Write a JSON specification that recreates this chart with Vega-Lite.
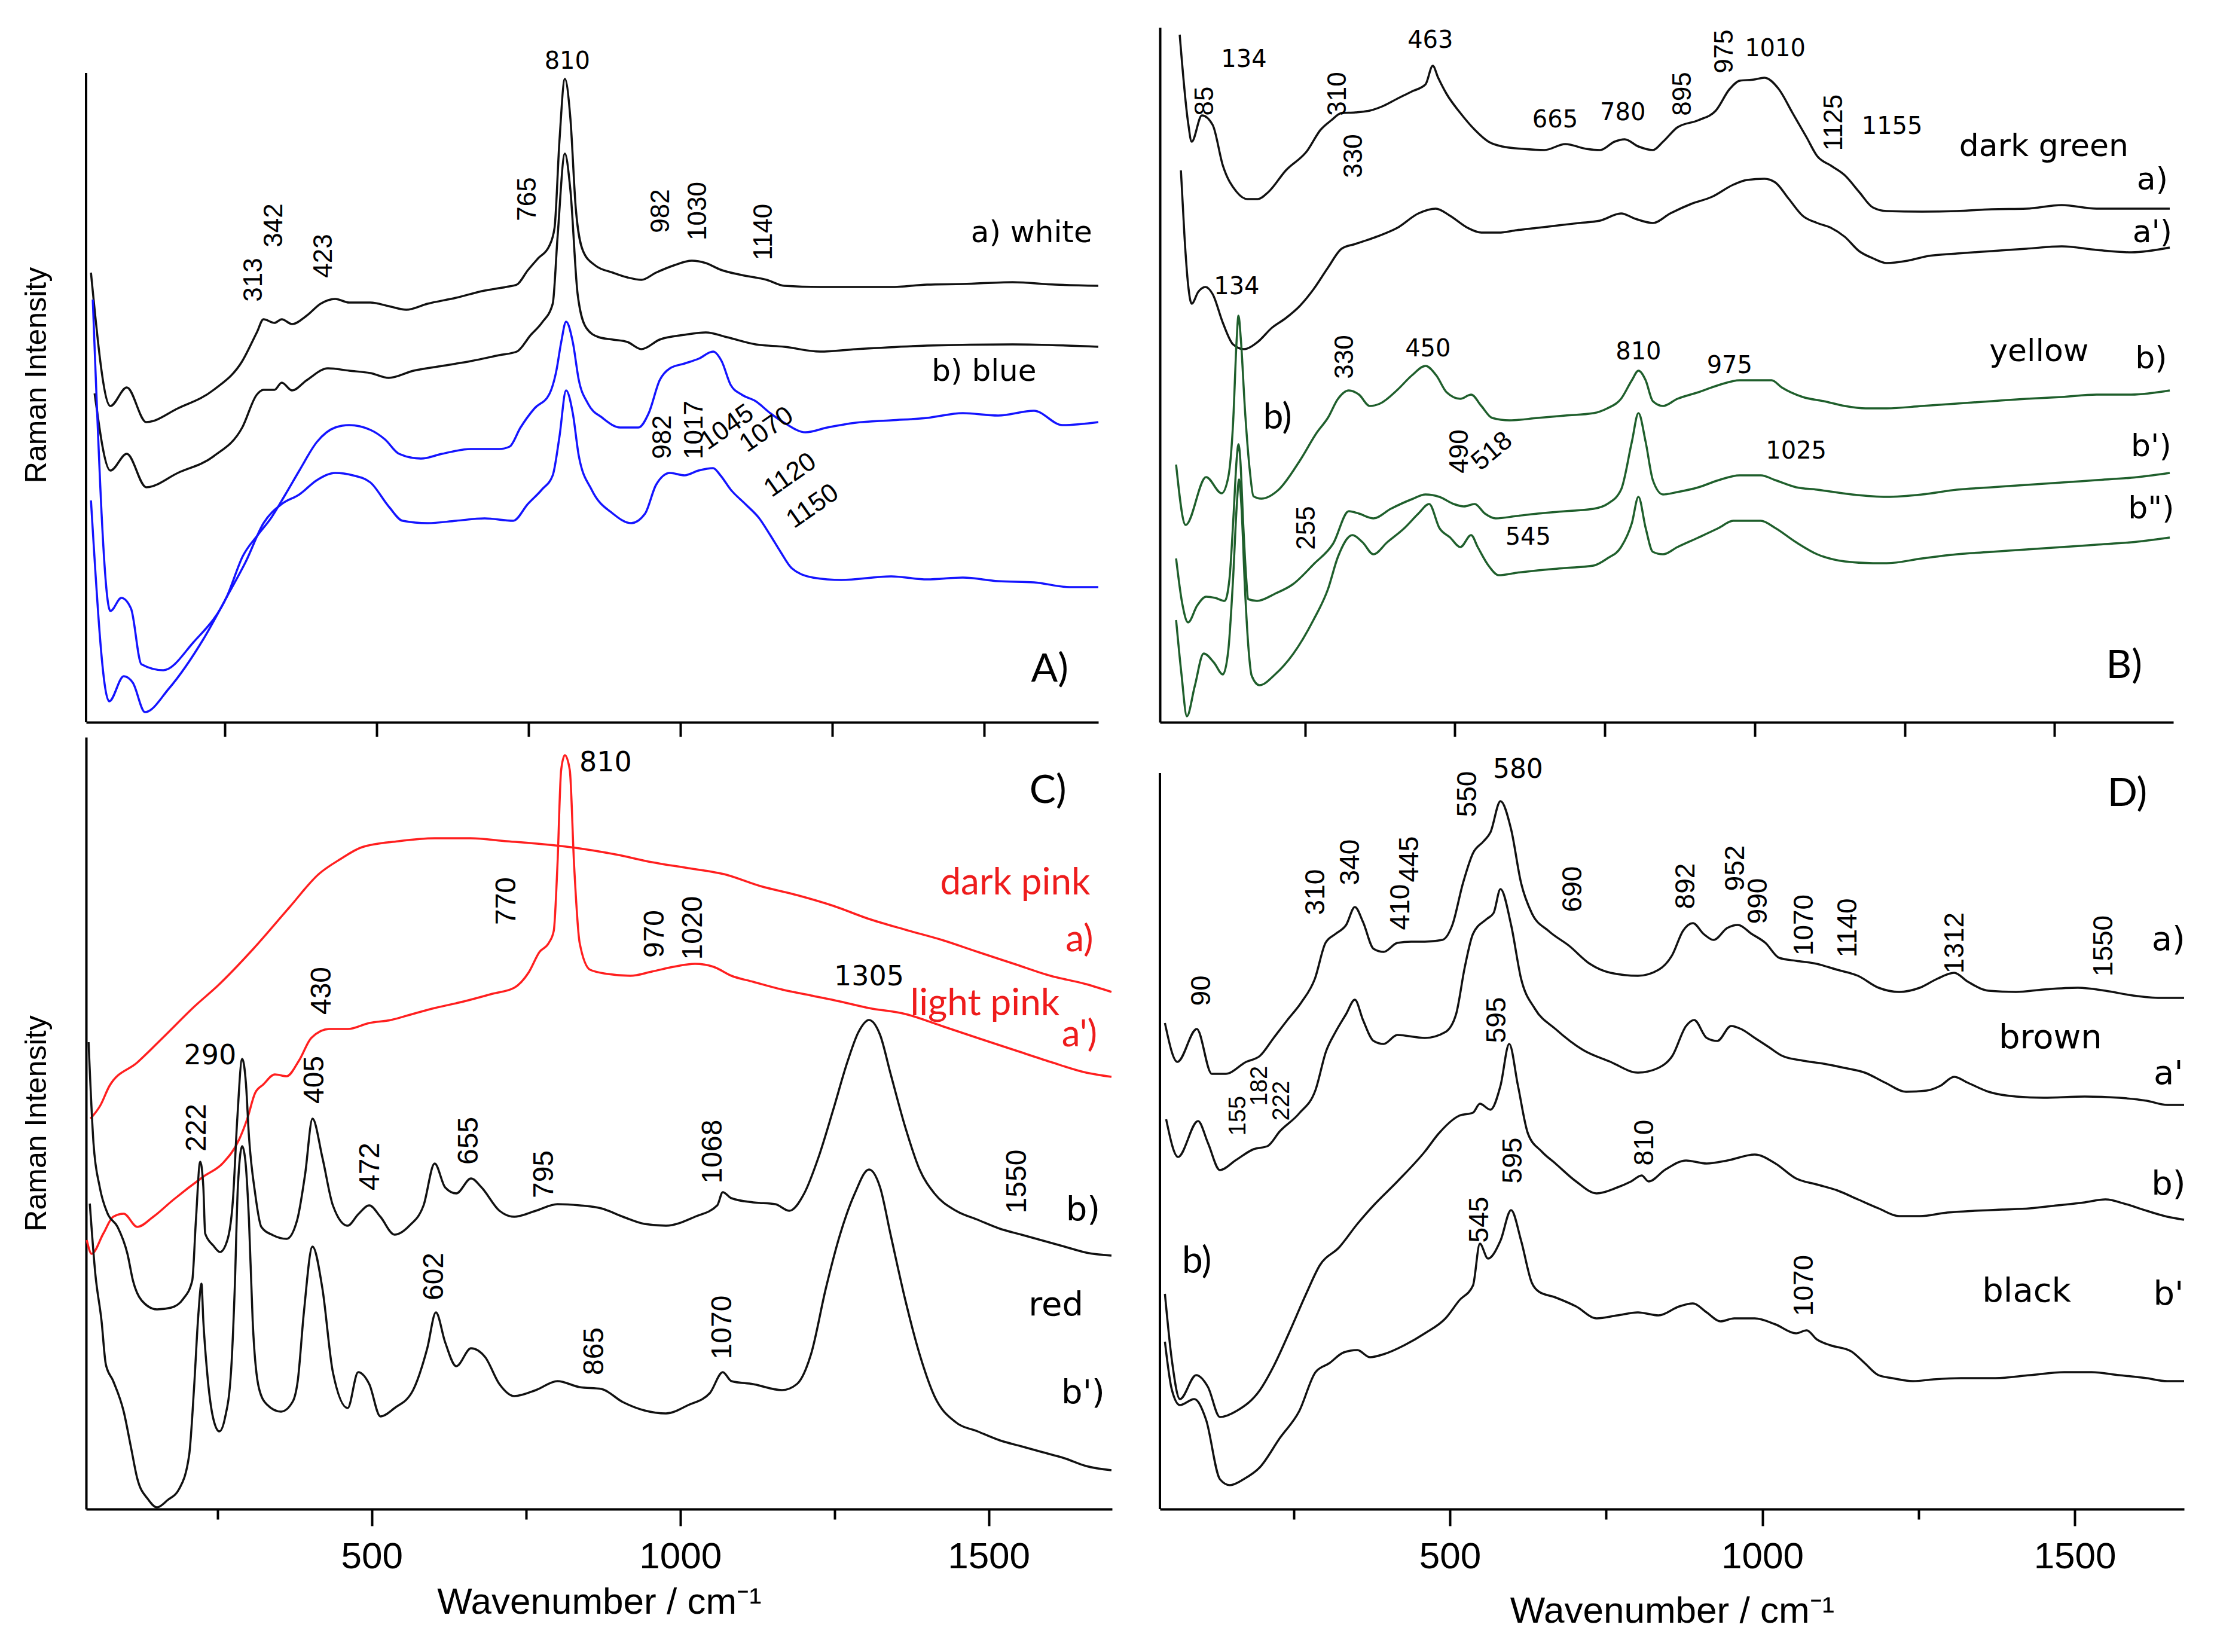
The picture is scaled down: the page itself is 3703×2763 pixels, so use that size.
{
"$schema":"https://vega.github.io/schema/vega-lite/v6.json",
"background":"white",
"padding":{"left":36,"top":46,"right":0,"bottom":10},
"config":{"view":{"stroke":null},"axis":{"domainColor":"#000","domainWidth":4,"tickColor":"#000","tickWidth":4,"labelFont":"Liberation Sans","labelFontSize":62,"labelColor":"#000","labelPadding":21,"titleFont":"Liberation Sans","titleFontSize":62,"titleFontWeight":"normal","titleColor":"#000","grid":false}},
"datasets":{
"A":[
{"s":"a","wn":30,"I":75.2},{"s":"a","wn":62,"I":52.9},{"s":"a","wn":89,"I":56.0},{"s":"a","wn":121,"I":50.2},{"s":"a","wn":173,"I":52.5},{"s":"a","wn":232,"I":55.6},{"s":"a","wn":279,"I":60.4},{"s":"a","wn":303,"I":65.2},{"s":"a","wn":314,"I":67.4},{"s":"a","wn":332,"I":66.8},{"s":"a","wn":344,"I":67.4},{"s":"a","wn":361,"I":66.6},{"s":"a","wn":385,"I":68.0},{"s":"a","wn":408,"I":70.0},{"s":"a","wn":432,"I":70.8},{"s":"a","wn":455,"I":70.2},{"s":"a","wn":490,"I":70.2},{"s":"a","wn":520,"I":69.6},{"s":"a","wn":549,"I":69.0},{"s":"a","wn":584,"I":70.0},{"s":"a","wn":631,"I":71.0},{"s":"a","wn":678,"I":72.2},{"s":"a","wn":713,"I":72.8},{"s":"a","wn":731,"I":73.2},{"s":"a","wn":749,"I":75.6},{"s":"a","wn":766,"I":77.6},{"s":"a","wn":784,"I":79.6},{"s":"a","wn":793,"I":82.7},{"s":"a","wn":801,"I":97.1},{"s":"a","wn":810,"I":107.6},{"s":"a","wn":819,"I":101.1},{"s":"a","wn":828,"I":85.9},{"s":"a","wn":840,"I":78.8},{"s":"a","wn":860,"I":76.4},{"s":"a","wn":889,"I":75.2},{"s":"a","wn":913,"I":74.4},{"s":"a","wn":936,"I":74.0},{"s":"a","wn":960,"I":75.2},{"s":"a","wn":989,"I":76.4},{"s":"a","wn":1019,"I":77.2},{"s":"a","wn":1042,"I":76.8},{"s":"a","wn":1066,"I":75.7},{"s":"a","wn":1101,"I":74.8},{"s":"a","wn":1142,"I":74.0},{"s":"a","wn":1171,"I":73.0},{"s":"a","wn":1230,"I":72.8},{"s":"a","wn":1289,"I":72.8},{"s":"a","wn":1347,"I":72.8},{"s":"a","wn":1406,"I":73.2},{"s":"a","wn":1465,"I":73.3},{"s":"a","wn":1547,"I":73.6},{"s":"a","wn":1617,"I":73.2},{"s":"a","wn":1688,"I":73.0},
{"s":"b","wn":36,"I":55.0},{"s":"b","wn":62,"I":42.1},{"s":"b","wn":89,"I":44.9},{"s":"b","wn":121,"I":39.3},{"s":"b","wn":173,"I":41.7},{"s":"b","wn":232,"I":44.5},{"s":"b","wn":279,"I":49.3},{"s":"b","wn":303,"I":54.8},{"s":"b","wn":314,"I":55.6},{"s":"b","wn":332,"I":55.6},{"s":"b","wn":344,"I":56.8},{"s":"b","wn":361,"I":55.5},{"s":"b","wn":385,"I":57.2},{"s":"b","wn":420,"I":59.2},{"s":"b","wn":455,"I":58.8},{"s":"b","wn":490,"I":58.4},{"s":"b","wn":520,"I":57.6},{"s":"b","wn":561,"I":58.8},{"s":"b","wn":608,"I":59.6},{"s":"b","wn":655,"I":60.4},{"s":"b","wn":702,"I":61.4},{"s":"b","wn":731,"I":62.0},{"s":"b","wn":754,"I":64.8},{"s":"b","wn":772,"I":66.8},{"s":"b","wn":790,"I":70.0},{"s":"b","wn":798,"I":81.2},{"s":"b","wn":810,"I":95.1},{"s":"b","wn":819,"I":89.1},{"s":"b","wn":831,"I":71.6},{"s":"b","wn":845,"I":66.0},{"s":"b","wn":866,"I":64.4},{"s":"b","wn":889,"I":64.0},{"s":"b","wn":913,"I":63.6},{"s":"b","wn":936,"I":62.4},{"s":"b","wn":966,"I":64.0},{"s":"b","wn":1007,"I":64.8},{"s":"b","wn":1042,"I":65.2},{"s":"b","wn":1077,"I":64.4},{"s":"b","wn":1124,"I":63.2},{"s":"b","wn":1171,"I":62.8},{"s":"b","wn":1230,"I":62.0},{"s":"b","wn":1289,"I":62.4},{"s":"b","wn":1406,"I":63.0},{"s":"b","wn":1547,"I":63.2},{"s":"b","wn":1688,"I":62.8},
{"s":"c","wn":33,"I":70.7},{"s":"c","wn":62,"I":18.6},{"s":"c","wn":80,"I":20.8},{"s":"c","wn":96,"I":19.0},{"s":"c","wn":113,"I":9.7},{"s":"c","wn":149,"I":8.7},{"s":"c","wn":198,"I":13.3},{"s":"c","wn":254,"I":21.1},{"s":"c","wn":280,"I":27.8},{"s":"c","wn":306,"I":31.5},{"s":"c","wn":326,"I":34.1},{"s":"c","wn":350,"I":38.1},{"s":"c","wn":373,"I":42.1},{"s":"c","wn":402,"I":46.9},{"s":"c","wn":432,"I":49.3},{"s":"c","wn":455,"I":49.7},{"s":"c","wn":490,"I":48.9},{"s":"c","wn":514,"I":47.3},{"s":"c","wn":537,"I":44.9},{"s":"c","wn":573,"I":44.1},{"s":"c","wn":608,"I":44.9},{"s":"c","wn":655,"I":45.7},{"s":"c","wn":702,"I":45.7},{"s":"c","wn":719,"I":46.1},{"s":"c","wn":737,"I":49.3},{"s":"c","wn":760,"I":52.5},{"s":"c","wn":784,"I":54.8},{"s":"c","wn":796,"I":58.8},{"s":"c","wn":804,"I":63.6},{"s":"c","wn":812,"I":67.0},{"s":"c","wn":823,"I":63.6},{"s":"c","wn":833,"I":57.2},{"s":"c","wn":848,"I":53.3},{"s":"c","wn":872,"I":50.9},{"s":"c","wn":901,"I":49.3},{"s":"c","wn":931,"I":49.3},{"s":"c","wn":948,"I":51.7},{"s":"c","wn":966,"I":57.2},{"s":"c","wn":983,"I":59.2},{"s":"c","wn":1007,"I":60.0},{"s":"c","wn":1030,"I":60.8},{"s":"c","wn":1054,"I":62.0},{"s":"c","wn":1068,"I":60.4},{"s":"c","wn":1083,"I":56.4},{"s":"c","wn":1101,"I":54.8},{"s":"c","wn":1124,"I":53.7},{"s":"c","wn":1148,"I":51.7},{"s":"c","wn":1171,"I":50.1},{"s":"c","wn":1206,"I":48.5},{"s":"c","wn":1242,"I":49.3},{"s":"c","wn":1289,"I":50.1},{"s":"c","wn":1347,"I":50.5},{"s":"c","wn":1406,"I":50.9},{"s":"c","wn":1465,"I":51.7},{"s":"c","wn":1523,"I":51.3},{"s":"c","wn":1582,"I":52.1},{"s":"c","wn":1629,"I":49.7},{"s":"c","wn":1688,"I":50.2},
{"s":"d","wn":30,"I":37.1},{"s":"d","wn":60,"I":3.5},{"s":"d","wn":84,"I":7.7},{"s":"d","wn":99,"I":6.6},{"s":"d","wn":119,"I":1.7},{"s":"d","wn":158,"I":5.6},{"s":"d","wn":215,"I":13.9},{"s":"d","wn":257,"I":21.6},{"s":"d","wn":285,"I":26.9},{"s":"d","wn":314,"I":33.3},{"s":"d","wn":344,"I":36.5},{"s":"d","wn":373,"I":38.1},{"s":"d","wn":402,"I":40.5},{"s":"d","wn":432,"I":41.7},{"s":"d","wn":461,"I":41.3},{"s":"d","wn":490,"I":40.1},{"s":"d","wn":520,"I":36.1},{"s":"d","wn":543,"I":33.7},{"s":"d","wn":584,"I":33.3},{"s":"d","wn":631,"I":33.7},{"s":"d","wn":678,"I":34.1},{"s":"d","wn":725,"I":33.7},{"s":"d","wn":749,"I":36.5},{"s":"d","wn":772,"I":38.9},{"s":"d","wn":790,"I":41.3},{"s":"d","wn":801,"I":47.7},{"s":"d","wn":812,"I":55.5},{"s":"d","wn":823,"I":51.7},{"s":"d","wn":833,"I":44.5},{"s":"d","wn":854,"I":38.9},{"s":"d","wn":889,"I":34.9},{"s":"d","wn":919,"I":33.3},{"s":"d","wn":942,"I":34.9},{"s":"d","wn":960,"I":39.7},{"s":"d","wn":983,"I":41.7},{"s":"d","wn":1007,"I":41.3},{"s":"d","wn":1030,"I":42.1},{"s":"d","wn":1054,"I":42.5},{"s":"d","wn":1066,"I":41.3},{"s":"d","wn":1083,"I":38.9},{"s":"d","wn":1107,"I":36.5},{"s":"d","wn":1130,"I":34.1},{"s":"d","wn":1148,"I":31.3},{"s":"d","wn":1165,"I":28.5},{"s":"d","wn":1183,"I":25.8},{"s":"d","wn":1218,"I":24.2},{"s":"d","wn":1265,"I":23.8},{"s":"d","wn":1347,"I":24.4},{"s":"d","wn":1406,"I":23.9},{"s":"d","wn":1465,"I":24.2},{"s":"d","wn":1523,"I":23.6},{"s":"d","wn":1582,"I":23.4},{"s":"d","wn":1641,"I":22.6},{"s":"d","wn":1688,"I":22.6}
],
"B":[
{"s":"a","wn":41,"I":115.0},{"s":"a","wn":55,"I":100.3},{"s":"a","wn":61,"I":97.1},{"s":"a","wn":78,"I":101.5},{"s":"a","wn":96,"I":99.9},{"s":"a","wn":113,"I":93.1},{"s":"a","wn":136,"I":88.7},{"s":"a","wn":154,"I":87.5},{"s":"a","wn":171,"I":87.5},{"s":"a","wn":189,"I":88.7},{"s":"a","wn":218,"I":92.3},{"s":"a","wn":253,"I":95.5},{"s":"a","wn":276,"I":99.1},{"s":"a","wn":294,"I":100.7},{"s":"a","wn":311,"I":101.9},{"s":"a","wn":334,"I":102.0},{"s":"a","wn":358,"I":102.3},{"s":"a","wn":381,"I":103.1},{"s":"a","wn":404,"I":104.3},{"s":"a","wn":428,"I":105.5},{"s":"a","wn":451,"I":106.7},{"s":"a","wn":463,"I":109.8},{"s":"a","wn":472,"I":107.8},{"s":"a","wn":486,"I":105.1},{"s":"a","wn":509,"I":101.9},{"s":"a","wn":533,"I":99.1},{"s":"a","wn":556,"I":97.1},{"s":"a","wn":579,"I":96.3},{"s":"a","wn":614,"I":95.9},{"s":"a","wn":649,"I":95.7},{"s":"a","wn":684,"I":96.7},{"s":"a","wn":719,"I":95.9},{"s":"a","wn":742,"I":95.7},{"s":"a","wn":766,"I":97.1},{"s":"a","wn":783,"I":97.5},{"s":"a","wn":806,"I":96.3},{"s":"a","wn":830,"I":95.7},{"s":"a","wn":847,"I":97.1},{"s":"a","wn":871,"I":99.5},{"s":"a","wn":906,"I":100.7},{"s":"a","wn":935,"I":102.3},{"s":"a","wn":958,"I":105.9},{"s":"a","wn":975,"I":107.3},{"s":"a","wn":999,"I":107.5},{"s":"a","wn":1016,"I":107.8},{"s":"a","wn":1040,"I":105.9},{"s":"a","wn":1063,"I":101.9},{"s":"a","wn":1086,"I":97.9},{"s":"a","wn":1104,"I":94.7},{"s":"a","wn":1127,"I":93.1},{"s":"a","wn":1150,"I":91.5},{"s":"a","wn":1174,"I":88.7},{"s":"a","wn":1197,"I":86.1},{"s":"a","wn":1220,"I":85.5},{"s":"a","wn":1279,"I":85.4},{"s":"a","wn":1337,"I":85.5},{"s":"a","wn":1395,"I":85.8},{"s":"a","wn":1453,"I":85.9},{"s":"a","wn":1512,"I":86.5},{"s":"a","wn":1570,"I":85.9},{"s":"a","wn":1628,"I":85.9},{"s":"a","wn":1692,"I":85.9},
{"s":"a2","wn":43,"I":92.3},{"s":"a2","wn":49,"I":81.2},{"s":"a2","wn":55,"I":73.2},{"s":"a2","wn":61,"I":70.0},{"s":"a2","wn":72,"I":72.0},{"s":"a2","wn":84,"I":72.8},{"s":"a2","wn":96,"I":71.6},{"s":"a2","wn":113,"I":66.8},{"s":"a2","wn":130,"I":63.2},{"s":"a2","wn":148,"I":62.4},{"s":"a2","wn":171,"I":63.6},{"s":"a2","wn":195,"I":66.0},{"s":"a2","wn":218,"I":67.6},{"s":"a2","wn":241,"I":69.6},{"s":"a2","wn":264,"I":72.4},{"s":"a2","wn":288,"I":76.0},{"s":"a2","wn":311,"I":79.2},{"s":"a2","wn":334,"I":80.0},{"s":"a2","wn":369,"I":81.2},{"s":"a2","wn":404,"I":82.7},{"s":"a2","wn":439,"I":85.1},{"s":"a2","wn":468,"I":85.9},{"s":"a2","wn":492,"I":84.7},{"s":"a2","wn":521,"I":82.7},{"s":"a2","wn":544,"I":81.9},{"s":"a2","wn":573,"I":81.9},{"s":"a2","wn":603,"I":82.3},{"s":"a2","wn":638,"I":82.7},{"s":"a2","wn":672,"I":83.1},{"s":"a2","wn":707,"I":83.5},{"s":"a2","wn":742,"I":83.9},{"s":"a2","wn":777,"I":85.1},{"s":"a2","wn":801,"I":84.2},{"s":"a2","wn":830,"I":83.5},{"s":"a2","wn":859,"I":85.1},{"s":"a2","wn":894,"I":86.7},{"s":"a2","wn":929,"I":87.9},{"s":"a2","wn":964,"I":89.9},{"s":"a2","wn":987,"I":90.7},{"s":"a2","wn":1016,"I":90.9},{"s":"a2","wn":1034,"I":90.3},{"s":"a2","wn":1057,"I":87.5},{"s":"a2","wn":1080,"I":84.7},{"s":"a2","wn":1104,"I":83.5},{"s":"a2","wn":1127,"I":82.7},{"s":"a2","wn":1150,"I":81.2},{"s":"a2","wn":1174,"I":78.8},{"s":"a2","wn":1197,"I":77.6},{"s":"a2","wn":1220,"I":76.8},{"s":"a2","wn":1255,"I":77.2},{"s":"a2","wn":1290,"I":78.0},{"s":"a2","wn":1337,"I":78.4},{"s":"a2","wn":1395,"I":78.8},{"s":"a2","wn":1453,"I":79.2},{"s":"a2","wn":1512,"I":79.6},{"s":"a2","wn":1570,"I":79.0},{"s":"a2","wn":1628,"I":78.6},{"s":"a2","wn":1692,"I":79.4},
{"s":"g1","wn":35,"I":43.1},{"s":"g1","wn":51,"I":33.0},{"s":"g1","wn":85,"I":41.0},{"s":"g1","wn":111,"I":38.3},{"s":"g1","wn":122,"I":41.0},{"s":"g1","wn":130,"I":50.0},{"s":"g1","wn":136,"I":64.0},{"s":"g1","wn":139,"I":68.0},{"s":"g1","wn":143,"I":64.0},{"s":"g1","wn":150,"I":52.0},{"s":"g1","wn":158,"I":42.0},{"s":"g1","wn":164,"I":37.8},{"s":"g1","wn":177,"I":37.4},{"s":"g1","wn":206,"I":38.9},{"s":"g1","wn":241,"I":43.7},{"s":"g1","wn":270,"I":48.5},{"s":"g1","wn":288,"I":50.9},{"s":"g1","wn":305,"I":54.1},{"s":"g1","wn":323,"I":55.5},{"s":"g1","wn":340,"I":54.8},{"s":"g1","wn":358,"I":52.9},{"s":"g1","wn":375,"I":53.3},{"s":"g1","wn":404,"I":55.6},{"s":"g1","wn":428,"I":58.0},{"s":"g1","wn":451,"I":59.6},{"s":"g1","wn":469,"I":58.0},{"s":"g1","wn":486,"I":55.2},{"s":"g1","wn":509,"I":54.1},{"s":"g1","wn":527,"I":54.8},{"s":"g1","wn":544,"I":52.9},{"s":"g1","wn":562,"I":50.9},{"s":"g1","wn":591,"I":50.5},{"s":"g1","wn":638,"I":50.9},{"s":"g1","wn":684,"I":51.3},{"s":"g1","wn":731,"I":51.7},{"s":"g1","wn":754,"I":52.5},{"s":"g1","wn":777,"I":54.1},{"s":"g1","wn":795,"I":57.2},{"s":"g1","wn":806,"I":58.8},{"s":"g1","wn":818,"I":57.2},{"s":"g1","wn":830,"I":53.7},{"s":"g1","wn":847,"I":52.9},{"s":"g1","wn":871,"I":54.1},{"s":"g1","wn":906,"I":55.2},{"s":"g1","wn":940,"I":56.4},{"s":"g1","wn":975,"I":57.2},{"s":"g1","wn":1028,"I":57.2},{"s":"g1","wn":1045,"I":56.0},{"s":"g1","wn":1080,"I":54.4},{"s":"g1","wn":1115,"I":53.7},{"s":"g1","wn":1150,"I":52.9},{"s":"g1","wn":1185,"I":52.5},{"s":"g1","wn":1220,"I":52.5},{"s":"g1","wn":1279,"I":52.9},{"s":"g1","wn":1337,"I":53.3},{"s":"g1","wn":1395,"I":53.7},{"s":"g1","wn":1453,"I":54.1},{"s":"g1","wn":1512,"I":54.4},{"s":"g1","wn":1570,"I":54.8},{"s":"g1","wn":1628,"I":54.8},{"s":"g1","wn":1692,"I":55.5},
{"s":"g2","wn":35,"I":27.4},{"s":"g2","wn":45,"I":20.0},{"s":"g2","wn":55,"I":16.7},{"s":"g2","wn":70,"I":19.5},{"s":"g2","wn":85,"I":21.0},{"s":"g2","wn":100,"I":20.8},{"s":"g2","wn":116,"I":20.3},{"s":"g2","wn":124,"I":24.0},{"s":"g2","wn":131,"I":35.0},{"s":"g2","wn":136,"I":44.0},{"s":"g2","wn":139,"I":46.5},{"s":"g2","wn":142,"I":44.0},{"s":"g2","wn":147,"I":33.0},{"s":"g2","wn":152,"I":24.0},{"s":"g2","wn":155,"I":20.6},{"s":"g2","wn":170,"I":20.3},{"s":"g2","wn":200,"I":21.5},{"s":"g2","wn":230,"I":23.1},{"s":"g2","wn":265,"I":26.5},{"s":"g2","wn":297,"I":29.9},{"s":"g2","wn":323,"I":35.3},{"s":"g2","wn":340,"I":34.9},{"s":"g2","wn":364,"I":34.1},{"s":"g2","wn":393,"I":35.7},{"s":"g2","wn":428,"I":37.3},{"s":"g2","wn":451,"I":38.1},{"s":"g2","wn":474,"I":37.7},{"s":"g2","wn":498,"I":36.5},{"s":"g2","wn":515,"I":36.1},{"s":"g2","wn":533,"I":36.5},{"s":"g2","wn":550,"I":34.9},{"s":"g2","wn":568,"I":34.1},{"s":"g2","wn":603,"I":34.5},{"s":"g2","wn":638,"I":34.9},{"s":"g2","wn":684,"I":35.3},{"s":"g2","wn":731,"I":35.7},{"s":"g2","wn":754,"I":36.5},{"s":"g2","wn":777,"I":38.9},{"s":"g2","wn":795,"I":46.9},{"s":"g2","wn":806,"I":51.7},{"s":"g2","wn":818,"I":46.9},{"s":"g2","wn":830,"I":40.5},{"s":"g2","wn":847,"I":38.1},{"s":"g2","wn":871,"I":38.5},{"s":"g2","wn":906,"I":39.3},{"s":"g2","wn":940,"I":40.5},{"s":"g2","wn":975,"I":41.3},{"s":"g2","wn":1010,"I":41.3},{"s":"g2","wn":1034,"I":40.5},{"s":"g2","wn":1069,"I":39.3},{"s":"g2","wn":1104,"I":38.9},{"s":"g2","wn":1162,"I":38.1},{"s":"g2","wn":1220,"I":37.7},{"s":"g2","wn":1279,"I":38.1},{"s":"g2","wn":1337,"I":38.9},{"s":"g2","wn":1395,"I":39.3},{"s":"g2","wn":1453,"I":39.7},{"s":"g2","wn":1512,"I":40.1},{"s":"g2","wn":1570,"I":40.5},{"s":"g2","wn":1628,"I":40.9},{"s":"g2","wn":1692,"I":41.7},
{"s":"g3","wn":35,"I":17.1},{"s":"g3","wn":44,"I":8.0},{"s":"g3","wn":53,"I":1.0},{"s":"g3","wn":66,"I":6.0},{"s":"g3","wn":81,"I":11.5},{"s":"g3","wn":98,"I":10.0},{"s":"g3","wn":113,"I":8.0},{"s":"g3","wn":122,"I":12.0},{"s":"g3","wn":130,"I":24.0},{"s":"g3","wn":136,"I":36.0},{"s":"g3","wn":140,"I":40.6},{"s":"g3","wn":144,"I":36.0},{"s":"g3","wn":150,"I":22.0},{"s":"g3","wn":156,"I":12.0},{"s":"g3","wn":161,"I":7.8},{"s":"g3","wn":174,"I":6.2},{"s":"g3","wn":200,"I":8.0},{"s":"g3","wn":230,"I":11.4},{"s":"g3","wn":264,"I":17.1},{"s":"g3","wn":288,"I":22.2},{"s":"g3","wn":305,"I":27.7},{"s":"g3","wn":329,"I":31.3},{"s":"g3","wn":346,"I":30.1},{"s":"g3","wn":364,"I":28.1},{"s":"g3","wn":387,"I":30.1},{"s":"g3","wn":416,"I":32.5},{"s":"g3","wn":439,"I":34.9},{"s":"g3","wn":457,"I":36.5},{"s":"g3","wn":474,"I":32.5},{"s":"g3","wn":492,"I":30.9},{"s":"g3","wn":509,"I":29.3},{"s":"g3","wn":527,"I":31.3},{"s":"g3","wn":538,"I":29.3},{"s":"g3","wn":556,"I":26.2},{"s":"g3","wn":573,"I":24.6},{"s":"g3","wn":603,"I":25.0},{"s":"g3","wn":638,"I":25.4},{"s":"g3","wn":684,"I":25.8},{"s":"g3","wn":731,"I":26.2},{"s":"g3","wn":754,"I":27.4},{"s":"g3","wn":777,"I":29.3},{"s":"g3","wn":795,"I":33.3},{"s":"g3","wn":806,"I":37.7},{"s":"g3","wn":818,"I":32.5},{"s":"g3","wn":830,"I":28.5},{"s":"g3","wn":847,"I":28.1},{"s":"g3","wn":871,"I":29.3},{"s":"g3","wn":906,"I":30.9},{"s":"g3","wn":940,"I":32.5},{"s":"g3","wn":964,"I":33.7},{"s":"g3","wn":1010,"I":33.7},{"s":"g3","wn":1034,"I":32.5},{"s":"g3","wn":1069,"I":30.1},{"s":"g3","wn":1104,"I":28.1},{"s":"g3","wn":1150,"I":26.9},{"s":"g3","wn":1197,"I":26.6},{"s":"g3","wn":1220,"I":26.6},{"s":"g3","wn":1279,"I":27.4},{"s":"g3","wn":1337,"I":28.1},{"s":"g3","wn":1395,"I":28.5},{"s":"g3","wn":1453,"I":28.9},{"s":"g3","wn":1512,"I":29.3},{"s":"g3","wn":1570,"I":29.7},{"s":"g3","wn":1628,"I":30.1},{"s":"g3","wn":1692,"I":30.9}
],
"C":[
{"s":"dp","wn":44,"I":65.3},{"s":"dp","wn":60,"I":67.5},{"s":"dp","wn":75,"I":70.8},{"s":"dp","wn":120,"I":74.7},{"s":"dp","wn":162,"I":78.9},{"s":"dp","wn":214,"I":84.2},{"s":"dp","wn":250,"I":87.5},{"s":"dp","wn":308,"I":93.7},{"s":"dp","wn":367,"I":100.7},{"s":"dp","wn":414,"I":106.2},{"s":"dp","wn":449,"I":108.7},{"s":"dp","wn":484,"I":110.7},{"s":"dp","wn":543,"I":111.7},{"s":"dp","wn":602,"I":112.2},{"s":"dp","wn":660,"I":112.2},{"s":"dp","wn":719,"I":111.7},{"s":"dp","wn":778,"I":111.2},{"s":"dp","wn":837,"I":110.5},{"s":"dp","wn":895,"I":109.5},{"s":"dp","wn":954,"I":108.2},{"s":"dp","wn":1013,"I":107.2},{"s":"dp","wn":1071,"I":106.2},{"s":"dp","wn":1130,"I":104.2},{"s":"dp","wn":1189,"I":102.7},{"s":"dp","wn":1248,"I":100.9},{"s":"dp","wn":1306,"I":98.7},{"s":"dp","wn":1365,"I":96.9},{"s":"dp","wn":1424,"I":95.2},{"s":"dp","wn":1482,"I":93.2},{"s":"dp","wn":1541,"I":91.2},{"s":"dp","wn":1600,"I":89.2},{"s":"dp","wn":1658,"I":87.8},{"s":"dp","wn":1699,"I":86.5},
{"s":"lp","wn":38,"I":45.0},{"s":"lp","wn":46,"I":42.7},{"s":"lp","wn":65,"I":46.1},{"s":"lp","wn":81,"I":48.9},{"s":"lp","wn":98,"I":49.4},{"s":"lp","wn":120,"I":47.2},{"s":"lp","wn":146,"I":48.9},{"s":"lp","wn":178,"I":51.7},{"s":"lp","wn":227,"I":55.6},{"s":"lp","wn":259,"I":57.9},{"s":"lp","wn":285,"I":61.8},{"s":"lp","wn":298,"I":65.2},{"s":"lp","wn":311,"I":69.6},{"s":"lp","wn":324,"I":71.0},{"s":"lp","wn":343,"I":72.7},{"s":"lp","wn":362,"I":72.4},{"s":"lp","wn":382,"I":75.0},{"s":"lp","wn":402,"I":78.8},{"s":"lp","wn":431,"I":80.3},{"s":"lp","wn":461,"I":80.3},{"s":"lp","wn":496,"I":81.3},{"s":"lp","wn":531,"I":81.8},{"s":"lp","wn":566,"I":82.8},{"s":"lp","wn":602,"I":83.8},{"s":"lp","wn":649,"I":84.9},{"s":"lp","wn":696,"I":86.2},{"s":"lp","wn":731,"I":87.2},{"s":"lp","wn":754,"I":89.7},{"s":"lp","wn":772,"I":93.2},{"s":"lp","wn":787,"I":94.7},{"s":"lp","wn":795,"I":96.7},{"s":"lp","wn":801,"I":107.7},{"s":"lp","wn":807,"I":123.6},{"s":"lp","wn":813,"I":126.1},{"s":"lp","wn":821,"I":123.6},{"s":"lp","wn":828,"I":107.7},{"s":"lp","wn":837,"I":94.7},{"s":"lp","wn":854,"I":90.2},{"s":"lp","wn":883,"I":89.5},{"s":"lp","wn":919,"I":89.2},{"s":"lp","wn":954,"I":89.9},{"s":"lp","wn":989,"I":90.7},{"s":"lp","wn":1024,"I":91.2},{"s":"lp","wn":1054,"I":90.7},{"s":"lp","wn":1083,"I":89.2},{"s":"lp","wn":1118,"I":88.2},{"s":"lp","wn":1165,"I":86.9},{"s":"lp","wn":1212,"I":85.9},{"s":"lp","wn":1259,"I":84.9},{"s":"lp","wn":1306,"I":83.8},{"s":"lp","wn":1365,"I":82.8},{"s":"lp","wn":1424,"I":80.8},{"s":"lp","wn":1482,"I":78.8},{"s":"lp","wn":1541,"I":76.8},{"s":"lp","wn":1600,"I":74.8},{"s":"lp","wn":1658,"I":73.0},{"s":"lp","wn":1699,"I":72.3},
{"s":"b","wn":41,"I":78.1},{"s":"b","wn":49,"I":61.2},{"s":"b","wn":59,"I":53.9},{"s":"b","wn":72,"I":49.4},{"s":"b","wn":88,"I":47.2},{"s":"b","wn":104,"I":42.7},{"s":"b","wn":113,"I":38.2},{"s":"b","wn":127,"I":34.9},{"s":"b","wn":152,"I":33.4},{"s":"b","wn":175,"I":33.7},{"s":"b","wn":194,"I":35.1},{"s":"b","wn":209,"I":38.2},{"s":"b","wn":215,"I":48.3},{"s":"b","wn":222,"I":58.1},{"s":"b","wn":227,"I":53.9},{"s":"b","wn":230,"I":46.1},{"s":"b","wn":243,"I":44.1},{"s":"b","wn":254,"I":43.0},{"s":"b","wn":266,"I":45.0},{"s":"b","wn":275,"I":51.7},{"s":"b","wn":282,"I":65.2},{"s":"b","wn":290,"I":75.3},{"s":"b","wn":296,"I":71.3},{"s":"b","wn":301,"I":62.3},{"s":"b","wn":311,"I":52.8},{"s":"b","wn":321,"I":47.2},{"s":"b","wn":340,"I":45.8},{"s":"b","wn":362,"I":45.2},{"s":"b","wn":379,"I":48.3},{"s":"b","wn":392,"I":56.0},{"s":"b","wn":404,"I":65.3},{"s":"b","wn":420,"I":58.8},{"s":"b","wn":437,"I":50.8},{"s":"b","wn":461,"I":47.4},{"s":"b","wn":478,"I":49.3},{"s":"b","wn":496,"I":50.8},{"s":"b","wn":514,"I":48.9},{"s":"b","wn":537,"I":45.9},{"s":"b","wn":561,"I":47.4},{"s":"b","wn":584,"I":50.8},{"s":"b","wn":602,"I":57.8},{"s":"b","wn":619,"I":53.8},{"s":"b","wn":637,"I":52.8},{"s":"b","wn":661,"I":55.3},{"s":"b","wn":678,"I":53.8},{"s":"b","wn":707,"I":49.9},{"s":"b","wn":731,"I":48.9},{"s":"b","wn":766,"I":49.9},{"s":"b","wn":801,"I":51.0},{"s":"b","wn":837,"I":50.8},{"s":"b","wn":872,"I":50.3},{"s":"b","wn":907,"I":48.9},{"s":"b","wn":942,"I":47.7},{"s":"b","wn":977,"I":47.4},{"s":"b","wn":1024,"I":48.9},{"s":"b","wn":1060,"I":50.8},{"s":"b","wn":1069,"I":53.0},{"s":"b","wn":1083,"I":52.0},{"s":"b","wn":1118,"I":51.3},{"s":"b","wn":1154,"I":51.0},{"s":"b","wn":1177,"I":49.9},{"s":"b","wn":1201,"I":52.8},{"s":"b","wn":1224,"I":58.8},{"s":"b","wn":1248,"I":66.8},{"s":"b","wn":1271,"I":74.8},{"s":"b","wn":1289,"I":79.8},{"s":"b","wn":1306,"I":81.8},{"s":"b","wn":1324,"I":79.3},{"s":"b","wn":1341,"I":72.8},{"s":"b","wn":1365,"I":63.8},{"s":"b","wn":1388,"I":56.8},{"s":"b","wn":1412,"I":52.8},{"s":"b","wn":1447,"I":49.9},{"s":"b","wn":1482,"I":48.4},{"s":"b","wn":1518,"I":46.9},{"s":"b","wn":1553,"I":45.9},{"s":"b","wn":1588,"I":44.9},{"s":"b","wn":1623,"I":43.9},{"s":"b","wn":1658,"I":42.9},{"s":"b","wn":1699,"I":42.4},
{"s":"b2","wn":43,"I":51.1},{"s":"b2","wn":52,"I":39.3},{"s":"b2","wn":62,"I":31.5},{"s":"b2","wn":69,"I":24.2},{"s":"b2","wn":81,"I":21.4},{"s":"b2","wn":98,"I":16.3},{"s":"b2","wn":110,"I":10.2},{"s":"b2","wn":120,"I":5.1},{"s":"b2","wn":137,"I":1.7},{"s":"b2","wn":152,"I":0.3},{"s":"b2","wn":169,"I":1.5},{"s":"b2","wn":188,"I":3.4},{"s":"b2","wn":204,"I":9.0},{"s":"b2","wn":212,"I":20.3},{"s":"b2","wn":219,"I":32.6},{"s":"b2","wn":224,"I":37.7},{"s":"b2","wn":227,"I":31.5},{"s":"b2","wn":233,"I":23.1},{"s":"b2","wn":243,"I":15.2},{"s":"b2","wn":253,"I":13.0},{"s":"b2","wn":262,"I":15.2},{"s":"b2","wn":272,"I":23.1},{"s":"b2","wn":278,"I":37.1},{"s":"b2","wn":283,"I":53.9},{"s":"b2","wn":290,"I":60.7},{"s":"b2","wn":295,"I":58.4},{"s":"b2","wn":301,"I":48.3},{"s":"b2","wn":307,"I":31.5},{"s":"b2","wn":317,"I":20.3},{"s":"b2","wn":330,"I":17.5},{"s":"b2","wn":353,"I":16.3},{"s":"b2","wn":372,"I":18.0},{"s":"b2","wn":380,"I":21.4},{"s":"b2","wn":390,"I":32.9},{"s":"b2","wn":404,"I":43.9},{"s":"b2","wn":420,"I":36.9},{"s":"b2","wn":437,"I":22.9},{"s":"b2","wn":461,"I":16.9},{"s":"b2","wn":478,"I":22.9},{"s":"b2","wn":496,"I":20.9},{"s":"b2","wn":514,"I":15.5},{"s":"b2","wn":537,"I":16.9},{"s":"b2","wn":567,"I":19.9},{"s":"b2","wn":590,"I":26.9},{"s":"b2","wn":604,"I":32.9},{"s":"b2","wn":619,"I":27.9},{"s":"b2","wn":637,"I":23.9},{"s":"b2","wn":661,"I":26.9},{"s":"b2","wn":684,"I":25.4},{"s":"b2","wn":707,"I":20.9},{"s":"b2","wn":731,"I":18.9},{"s":"b2","wn":766,"I":19.9},{"s":"b2","wn":801,"I":21.4},{"s":"b2","wn":837,"I":20.4},{"s":"b2","wn":872,"I":20.1},{"s":"b2","wn":907,"I":17.9},{"s":"b2","wn":942,"I":16.5},{"s":"b2","wn":977,"I":16.0},{"s":"b2","wn":1013,"I":17.4},{"s":"b2","wn":1048,"I":19.4},{"s":"b2","wn":1069,"I":22.9},{"s":"b2","wn":1083,"I":21.4},{"s":"b2","wn":1118,"I":20.9},{"s":"b2","wn":1165,"I":19.9},{"s":"b2","wn":1189,"I":20.9},{"s":"b2","wn":1212,"I":25.9},{"s":"b2","wn":1236,"I":36.9},{"s":"b2","wn":1259,"I":45.9},{"s":"b2","wn":1283,"I":52.8},{"s":"b2","wn":1306,"I":56.8},{"s":"b2","wn":1324,"I":53.8},{"s":"b2","wn":1341,"I":45.9},{"s":"b2","wn":1365,"I":34.9},{"s":"b2","wn":1388,"I":25.9},{"s":"b2","wn":1412,"I":18.9},{"s":"b2","wn":1447,"I":14.5},{"s":"b2","wn":1482,"I":13.0},{"s":"b2","wn":1518,"I":11.5},{"s":"b2","wn":1553,"I":10.5},{"s":"b2","wn":1588,"I":9.5},{"s":"b2","wn":1623,"I":8.5},{"s":"b2","wn":1658,"I":7.2},{"s":"b2","wn":1699,"I":6.5}
],
"D":[
{"s":"a","wn":44,"I":81.3},{"s":"a","wn":64,"I":74.8},{"s":"a","wn":95,"I":80.3},{"s":"a","wn":119,"I":72.8},{"s":"a","wn":141,"I":72.8},{"s":"a","wn":174,"I":74.8},{"s":"a","wn":196,"I":75.8},{"s":"a","wn":218,"I":78.8},{"s":"a","wn":240,"I":81.8},{"s":"a","wn":262,"I":84.7},{"s":"a","wn":284,"I":88.7},{"s":"a","wn":301,"I":94.7},{"s":"a","wn":317,"I":96.2},{"s":"a","wn":334,"I":97.7},{"s":"a","wn":348,"I":100.7},{"s":"a","wn":361,"I":98.2},{"s":"a","wn":378,"I":93.7},{"s":"a","wn":394,"I":93.2},{"s":"a","wn":416,"I":94.7},{"s":"a","wn":438,"I":94.9},{"s":"a","wn":460,"I":94.9},{"s":"a","wn":488,"I":95.2},{"s":"a","wn":504,"I":97.7},{"s":"a","wn":521,"I":104.7},{"s":"a","wn":537,"I":109.7},{"s":"a","wn":554,"I":111.7},{"s":"a","wn":565,"I":113.2},{"s":"a","wn":581,"I":118.4},{"s":"a","wn":598,"I":113.7},{"s":"a","wn":614,"I":104.7},{"s":"a","wn":631,"I":99.7},{"s":"a","wn":658,"I":96.7},{"s":"a","wn":691,"I":94.2},{"s":"a","wn":724,"I":91.2},{"s":"a","wn":757,"I":89.7},{"s":"a","wn":801,"I":89.2},{"s":"a","wn":834,"I":90.2},{"s":"a","wn":856,"I":92.7},{"s":"a","wn":873,"I":96.7},{"s":"a","wn":889,"I":98.0},{"s":"a","wn":906,"I":96.2},{"s":"a","wn":922,"I":95.2},{"s":"a","wn":944,"I":97.2},{"s":"a","wn":961,"I":97.7},{"s":"a","wn":983,"I":96.2},{"s":"a","wn":1005,"I":94.7},{"s":"a","wn":1027,"I":92.2},{"s":"a","wn":1054,"I":91.7},{"s":"a","wn":1087,"I":91.2},{"s":"a","wn":1120,"I":90.2},{"s":"a","wn":1153,"I":89.2},{"s":"a","wn":1186,"I":87.2},{"s":"a","wn":1219,"I":86.5},{"s":"a","wn":1252,"I":87.2},{"s":"a","wn":1280,"I":88.7},{"s":"a","wn":1307,"I":89.7},{"s":"a","wn":1329,"I":88.2},{"s":"a","wn":1362,"I":86.7},{"s":"a","wn":1406,"I":86.5},{"s":"a","wn":1450,"I":86.9},{"s":"a","wn":1505,"I":87.2},{"s":"a","wn":1549,"I":86.7},{"s":"a","wn":1593,"I":85.9},{"s":"a","wn":1637,"I":85.5},{"s":"a","wn":1675,"I":85.5},
{"s":"a2","wn":46,"I":65.2},{"s":"a2","wn":65,"I":58.9},{"s":"a2","wn":97,"I":64.9},{"s":"a2","wn":113,"I":61.2},{"s":"a2","wn":132,"I":56.7},{"s":"a2","wn":158,"I":58.4},{"s":"a2","wn":186,"I":60.2},{"s":"a2","wn":208,"I":60.7},{"s":"a2","wn":228,"I":63.2},{"s":"a2","wn":259,"I":66.2},{"s":"a2","wn":285,"I":70.1},{"s":"a2","wn":302,"I":76.6},{"s":"a2","wn":317,"I":79.8},{"s":"a2","wn":334,"I":82.8},{"s":"a2","wn":348,"I":85.2},{"s":"a2","wn":361,"I":81.8},{"s":"a2","wn":378,"I":78.3},{"s":"a2","wn":394,"I":77.8},{"s":"a2","wn":416,"I":79.3},{"s":"a2","wn":460,"I":78.8},{"s":"a2","wn":493,"I":79.8},{"s":"a2","wn":510,"I":82.8},{"s":"a2","wn":524,"I":90.7},{"s":"a2","wn":537,"I":96.2},{"s":"a2","wn":559,"I":98.7},{"s":"a2","wn":570,"I":99.7},{"s":"a2","wn":581,"I":103.7},{"s":"a2","wn":598,"I":97.7},{"s":"a2","wn":614,"I":88.7},{"s":"a2","wn":636,"I":83.7},{"s":"a2","wn":669,"I":80.3},{"s":"a2","wn":713,"I":76.8},{"s":"a2","wn":757,"I":74.8},{"s":"a2","wn":801,"I":73.0},{"s":"a2","wn":834,"I":73.8},{"s":"a2","wn":856,"I":75.8},{"s":"a2","wn":878,"I":80.8},{"s":"a2","wn":891,"I":81.8},{"s":"a2","wn":911,"I":78.8},{"s":"a2","wn":928,"I":78.3},{"s":"a2","wn":950,"I":80.8},{"s":"a2","wn":966,"I":80.3},{"s":"a2","wn":988,"I":78.8},{"s":"a2","wn":1010,"I":77.3},{"s":"a2","wn":1032,"I":75.8},{"s":"a2","wn":1065,"I":75.0},{"s":"a2","wn":1098,"I":74.5},{"s":"a2","wn":1131,"I":73.8},{"s":"a2","wn":1164,"I":73.0},{"s":"a2","wn":1197,"I":71.3},{"s":"a2","wn":1230,"I":69.8},{"s":"a2","wn":1263,"I":70.0},{"s":"a2","wn":1285,"I":70.8},{"s":"a2","wn":1307,"I":72.3},{"s":"a2","wn":1329,"I":71.3},{"s":"a2","wn":1362,"I":69.8},{"s":"a2","wn":1406,"I":69.0},{"s":"a2","wn":1450,"I":68.8},{"s":"a2","wn":1516,"I":69.0},{"s":"a2","wn":1571,"I":68.8},{"s":"a2","wn":1615,"I":68.3},{"s":"a2","wn":1648,"I":67.6},{"s":"a2","wn":1675,"I":67.6},
{"s":"b","wn":44,"I":36.0},{"s":"b","wn":55,"I":25.0},{"s":"b","wn":68,"I":18.4},{"s":"b","wn":94,"I":22.4},{"s":"b","wn":113,"I":20.4},{"s":"b","wn":132,"I":15.4},{"s":"b","wn":160,"I":16.5},{"s":"b","wn":196,"I":19.9},{"s":"b","wn":218,"I":23.9},{"s":"b","wn":244,"I":29.8},{"s":"b","wn":270,"I":36.0},{"s":"b","wn":292,"I":40.8},{"s":"b","wn":323,"I":43.8},{"s":"b","wn":352,"I":47.7},{"s":"b","wn":378,"I":50.8},{"s":"b","wn":416,"I":54.8},{"s":"b","wn":460,"I":59.8},{"s":"b","wn":482,"I":62.8},{"s":"b","wn":515,"I":65.8},{"s":"b","wn":537,"I":66.3},{"s":"b","wn":548,"I":67.8},{"s":"b","wn":565,"I":66.8},{"s":"b","wn":581,"I":70.8},{"s":"b","wn":595,"I":77.8},{"s":"b","wn":609,"I":70.8},{"s":"b","wn":625,"I":62.8},{"s":"b","wn":647,"I":59.8},{"s":"b","wn":669,"I":57.8},{"s":"b","wn":702,"I":54.8},{"s":"b","wn":735,"I":52.8},{"s":"b","wn":768,"I":53.8},{"s":"b","wn":790,"I":54.8},{"s":"b","wn":807,"I":55.8},{"s":"b","wn":818,"I":54.8},{"s":"b","wn":845,"I":56.8},{"s":"b","wn":878,"I":58.3},{"s":"b","wn":911,"I":57.8},{"s":"b","wn":944,"I":58.3},{"s":"b","wn":988,"I":59.3},{"s":"b","wn":1021,"I":57.8},{"s":"b","wn":1054,"I":55.3},{"s":"b","wn":1087,"I":54.3},{"s":"b","wn":1120,"I":53.3},{"s":"b","wn":1153,"I":51.8},{"s":"b","wn":1186,"I":50.3},{"s":"b","wn":1219,"I":49.0},{"s":"b","wn":1252,"I":49.0},{"s":"b","wn":1296,"I":49.6},{"s":"b","wn":1340,"I":49.9},{"s":"b","wn":1384,"I":50.1},{"s":"b","wn":1428,"I":50.3},{"s":"b","wn":1472,"I":50.8},{"s":"b","wn":1516,"I":51.3},{"s":"b","wn":1549,"I":51.8},{"s":"b","wn":1582,"I":51.0},{"s":"b","wn":1615,"I":49.9},{"s":"b","wn":1648,"I":48.9},{"s":"b","wn":1675,"I":48.4},
{"s":"b2","wn":44,"I":28.0},{"s":"b2","wn":55,"I":20.0},{"s":"b2","wn":68,"I":17.4},{"s":"b2","wn":91,"I":18.4},{"s":"b2","wn":110,"I":14.9},{"s":"b2","wn":132,"I":5.0},{"s":"b2","wn":148,"I":4.0},{"s":"b2","wn":170,"I":5.0},{"s":"b2","wn":196,"I":7.0},{"s":"b2","wn":228,"I":11.9},{"s":"b2","wn":259,"I":16.4},{"s":"b2","wn":285,"I":22.9},{"s":"b2","wn":307,"I":24.4},{"s":"b2","wn":330,"I":26.2},{"s":"b2","wn":352,"I":26.6},{"s":"b2","wn":372,"I":25.4},{"s":"b2","wn":394,"I":25.9},{"s":"b2","wn":427,"I":27.4},{"s":"b2","wn":460,"I":29.4},{"s":"b2","wn":493,"I":31.9},{"s":"b2","wn":515,"I":34.9},{"s":"b2","wn":537,"I":37.4},{"s":"b2","wn":548,"I":44.4},{"s":"b2","wn":561,"I":41.9},{"s":"b2","wn":581,"I":44.9},{"s":"b2","wn":598,"I":50.0},{"s":"b2","wn":614,"I":44.9},{"s":"b2","wn":631,"I":37.9},{"s":"b2","wn":642,"I":36.4},{"s":"b2","wn":669,"I":35.4},{"s":"b2","wn":702,"I":33.9},{"s":"b2","wn":735,"I":31.9},{"s":"b2","wn":768,"I":32.4},{"s":"b2","wn":801,"I":32.9},{"s":"b2","wn":834,"I":32.4},{"s":"b2","wn":867,"I":33.9},{"s":"b2","wn":889,"I":34.4},{"s":"b2","wn":911,"I":32.9},{"s":"b2","wn":933,"I":31.4},{"s":"b2","wn":955,"I":31.9},{"s":"b2","wn":988,"I":31.9},{"s":"b2","wn":1021,"I":30.9},{"s":"b2","wn":1054,"I":29.4},{"s":"b2","wn":1071,"I":29.9},{"s":"b2","wn":1087,"I":28.4},{"s":"b2","wn":1109,"I":27.4},{"s":"b2","wn":1142,"I":26.4},{"s":"b2","wn":1164,"I":24.4},{"s":"b2","wn":1186,"I":22.4},{"s":"b2","wn":1208,"I":21.9},{"s":"b2","wn":1241,"I":21.4},{"s":"b2","wn":1274,"I":21.7},{"s":"b2","wn":1318,"I":21.9},{"s":"b2","wn":1373,"I":21.9},{"s":"b2","wn":1428,"I":22.4},{"s":"b2","wn":1483,"I":22.9},{"s":"b2","wn":1527,"I":22.9},{"s":"b2","wn":1571,"I":22.4},{"s":"b2","wn":1615,"I":21.9},{"s":"b2","wn":1648,"I":21.4},{"s":"b2","wn":1675,"I":21.4}
],
"Ah":[{"wn":814,"I":110.5,"t":"810"}],
"Ac":[{"wn":1578,"I":81.8,"t":"a) white"},{"wn":1500,"I":58.6,"t":"b) blue"}],
"Ar":[{"wn":299,"I":74.0,"t":"313"},{"wn":332,"I":83.1,"t":"342"},{"wn":414,"I":78.0,"t":"423"},{"wn":749,"I":87.5,"t":"765"},{"wn":969,"I":85.5,"t":"982"},{"wn":1030,"I":85.5,"t":"1030"},{"wn":1138,"I":82.0,"t":"1140"},{"wn":972,"I":47.7,"t":"982"},{"wn":1024,"I":48.9,"t":"1017"}],
"At":[{"wn":1077,"I":49.3,"t":"1045"},{"wn":1142,"I":48.9,"t":"1070"},{"wn":1181,"I":41.3,"t":"1120"},{"wn":1218,"I":36.1,"t":"1150"}],
"AL":[{"wn":1608,"I":8.8,"t":"A)"}],
"Bh":[{"wn":148,"I":110.8,"t":"134"},{"wn":459,"I":114.0,"t":"463"},{"wn":667,"I":100.7,"t":"665"},{"wn":780,"I":101.9,"t":"780"},{"wn":1034,"I":112.6,"t":"1010"},{"wn":1229,"I":99.6,"t":"1155"},{"wn":136,"I":72.8,"t":"134"},{"wn":455,"I":62.4,"t":"450"},{"wn":806,"I":61.9,"t":"810"},{"wn":958,"I":59.6,"t":"975"},{"wn":1069,"I":45.3,"t":"1025"},{"wn":622,"I":30.9,"t":"545"}],
"Bc":[{"wn":1482,"I":96.3,"t":"dark green"},{"wn":1663,"I":90.7,"t":"a)"},{"wn":1663,"I":81.9,"t":"a')"},{"wn":1474,"I":62.0,"t":"yellow"},{"wn":1661,"I":60.8,"t":"b)"},{"wn":1661,"I":46.1,"t":"b')"},{"wn":1661,"I":35.7,"t":"b\")"}],
"Br":[{"wn":84,"I":103.9,"t":"85"},{"wn":305,"I":105.1,"t":"310"},{"wn":332,"I":94.7,"t":"330"},{"wn":880,"I":105.1,"t":"895"},{"wn":950,"I":112.2,"t":"975"},{"wn":1133,"I":100.3,"t":"1125"},{"wn":317,"I":61.1,"t":"330"},{"wn":509,"I":45.3,"t":"490"},{"wn":253,"I":32.5,"t":"255"}],
"Bt":[{"wn":562,"I":45.3,"t":"518"}],
"BL":[{"wn":1616,"I":9.4,"t":"B)"}],
"BL2":[{"wn":204,"I":50.9,"t":"b)"}],
"Ch":[{"wn":879,"I":124.8,"t":"810"},{"wn":1306,"I":89.0,"t":"1305"},{"wn":238,"I":75.8,"t":"290"}],
"Cr":[{"wn":719,"I":101.7,"t":"770"},{"wn":960,"I":96.2,"t":"970"},{"wn":1022,"I":97.2,"t":"1020"},{"wn":420,"I":86.7,"t":"430"},{"wn":408,"I":71.8,"t":"405"},{"wn":217,"I":63.8,"t":"222"},{"wn":658,"I":61.6,"t":"655"},{"wn":498,"I":57.3,"t":"472"},{"wn":780,"I":56.0,"t":"795"},{"wn":1054,"I":59.8,"t":"1068"},{"wn":1547,"I":54.8,"t":"1550"},{"wn":602,"I":38.9,"t":"602"},{"wn":862,"I":26.4,"t":"865"},{"wn":1069,"I":30.4,"t":"1070"}],
"Cred":[{"wn":1543,"I":104.7,"t":"dark pink"},{"wn":1647,"I":95.2,"t":"a)"},{"wn":1494,"I":84.5,"t":"light pink"},{"wn":1647,"I":79.3,"t":"a')"}],
"Cc":[{"wn":1653,"I":50.0,"t":"b)"},{"wn":1609,"I":34.1,"t":"red"},{"wn":1653,"I":19.4,"t":"b')"}],
"CL":[{"wn":1596,"I":120.1,"t":"C)"}],
"Dh":[{"wn":609,"I":123.6,"t":"580"}],
"Dr":[{"wn":529,"I":119.6,"t":"550"},{"wn":286,"I":103.2,"t":"310"},{"wn":341,"I":108.2,"t":"340"},{"wn":422,"I":100.7,"t":"410"},{"wn":436,"I":108.7,"t":"445"},{"wn":697,"I":103.7,"t":"690"},{"wn":878,"I":104.2,"t":"892"},{"wn":957,"I":107.2,"t":"952"},{"wn":994,"I":101.7,"t":"990"},{"wn":1067,"I":97.7,"t":"1070"},{"wn":1137,"I":97.2,"t":"1140"},{"wn":1309,"I":94.7,"t":"1312"},{"wn":1547,"I":94.2,"t":"1550"},{"wn":103,"I":86.7,"t":"90"},{"wn":576,"I":81.8,"t":"595"},{"wn":812,"I":61.3,"t":"810"},{"wn":601,"I":58.3,"t":"595"},{"wn":548,"I":48.4,"t":"545"},{"wn":1067,"I":37.4,"t":"1070"}],
"Ds":[{"wn":161,"I":65.8,"t":"155"},{"wn":196,"I":70.8,"t":"182"},{"wn":231,"I":68.3,"t":"222"}],
"Dc":[{"wn":1650,"I":95.2,"t":"a)"},{"wn":1461,"I":78.8,"t":"brown"},{"wn":1650,"I":72.8,"t":"a'"},{"wn":1650,"I":54.3,"t":"b)"},{"wn":1423,"I":36.4,"t":"black"},{"wn":1650,"I":35.9,"t":"b'"}],
"DL":[{"wn":1584,"I":119.6,"t":"D)"}],
"DL2":[{"wn":95,"I":41.4,"t":"b)"}]
},
"columns":2,
"spacing":{"row":25,"column":80},
"bounds":"flush",
"resolve":{"scale":{"color":"independent"}},
"concat":[
{
"width":1693,"height":1162,
"encoding":{
"x":{"field":"wn","type":"quantitative","scale":{"domain":[22,1688],"nice":false,"zero":false},"axis":{"values":[250,500,750,1000,1250,1500],"labels":false,"title":null,"tickSize":24}},
"y":{"field":"I","type":"quantitative","scale":{"domain":[0,116.2],"nice":false,"zero":false},"axis":{"title":"Raman Intensity","titleFontSize":50,"titlePadding":58,"labels":false,"ticks":false,"domain":false}}
},
"layer":[
{"data":{"name":"A"},"mark":{"type":"line","strokeWidth":3.5,"interpolate":"monotone"},"encoding":{"color":{"field":"s","type":"nominal","scale":{"domain":["a","b","c","d"],"range":["#111111","#111111","#1414ff","#1414ff"]},"legend":null}}},
{"data":{"values":[{"wn":22,"I":0,"I2":108.6}]},"mark":{"type":"rule","strokeWidth":4,"color":"#000"},"encoding":{"y2":{"field":"I2"}}},
{"data":{"name":"Ah"},"mark":{"type":"text","font":"DejaVu Sans","fontSize":40,"color":"#000"},"encoding":{"text":{"field":"t","type":"nominal"}}},
{"data":{"name":"Ac"},"mark":{"type":"text","font":"DejaVu Sans","fontSize":50,"color":"#000"},"encoding":{"text":{"field":"t","type":"nominal"}}},
{"data":{"name":"Ar"},"mark":{"type":"text","font":"Liberation Sans","fontSize":44,"angle":270,"color":"#000"},"encoding":{"text":{"field":"t","type":"nominal"}}},
{"data":{"name":"At"},"mark":{"type":"text","font":"Liberation Sans","fontSize":44,"angle":325,"color":"#000"},"encoding":{"text":{"field":"t","type":"nominal"}}},
{"data":{"name":"AL"},"mark":{"type":"text","font":"Lato","fontSize":66,"color":"#000"},"encoding":{"text":{"field":"t","type":"nominal"}}}
]
},
{
"width":1695,"height":1162,
"encoding":{
"x":{"field":"wn","type":"quantitative","scale":{"domain":[8,1698],"nice":false,"zero":false},"axis":{"values":[250,500,750,1000,1250,1500],"labels":false,"title":null,"tickSize":24}},
"y":{"field":"I","type":"quantitative","scale":{"domain":[0,116.2],"nice":false,"zero":false},"axis":{"title":null,"labels":false,"ticks":false,"domain":true}}
},
"layer":[
{"data":{"name":"B"},"mark":{"type":"line","strokeWidth":3.5,"interpolate":"monotone"},"encoding":{"color":{"field":"s","type":"nominal","scale":{"domain":["a","a2","g1","g2","g3"],"range":["#111111","#111111","#1f5f2c","#1f5f2c","#1f5f2c"]},"legend":null}}},
{"data":{"name":"Bh"},"mark":{"type":"text","font":"DejaVu Sans","fontSize":40,"color":"#000"},"encoding":{"text":{"field":"t","type":"nominal"}}},
{"data":{"name":"Bc"},"mark":{"type":"text","font":"DejaVu Sans","fontSize":52,"color":"#000"},"encoding":{"text":{"field":"t","type":"nominal"}}},
{"data":{"name":"Br"},"mark":{"type":"text","font":"Liberation Sans","fontSize":44,"angle":270,"color":"#000"},"encoding":{"text":{"field":"t","type":"nominal"}}},
{"data":{"name":"Bt"},"mark":{"type":"text","font":"Liberation Sans","fontSize":44,"angle":320,"color":"#000"},"encoding":{"text":{"field":"t","type":"nominal"}}},
{"data":{"name":"BL"},"mark":{"type":"text","font":"Lato","fontSize":66,"color":"#000"},"encoding":{"text":{"field":"t","type":"nominal"}}},
{"data":{"name":"BL2"},"mark":{"type":"text","font":"Lato","fontSize":60,"color":"#000"},"encoding":{"text":{"field":"t","type":"nominal"}}}
]
},
{
"width":1716,"height":1291,
"encoding":{
"x":{"field":"wn","type":"quantitative","scale":{"domain":[37,1700],"nice":false,"zero":false},"axis":{"values":[250,500,750,1000,1250,1500],"labelExpr":"datum.value % 500 === 0 ? '' + datum.value : ''","tickSize":{"condition":{"test":"datum.value % 500 === 0","value":28},"value":17},"title":"Wavenumber  /  cm⁻¹","titlePadding":15}},
"y":{"field":"I","type":"quantitative","scale":{"domain":[0,129.1],"nice":false,"zero":false},"axis":{"title":"Raman Intensity","titleFontSize":50,"titlePadding":58,"labels":false,"ticks":false,"domain":true}}
},
"layer":[
{"data":{"name":"C"},"mark":{"type":"line","strokeWidth":3.5,"interpolate":"monotone"},"encoding":{"color":{"field":"s","type":"nominal","scale":{"domain":["dp","lp","b","b2"],"range":["#ff1f1f","#ff1f1f","#111111","#111111"]},"legend":null}}},
{"data":{"name":"Ch"},"mark":{"type":"text","font":"DejaVu Sans","fontSize":46,"color":"#000"},"encoding":{"text":{"field":"t","type":"nominal"}}},
{"data":{"name":"Cr"},"mark":{"type":"text","font":"Liberation Sans","fontSize":48,"angle":270,"color":"#000"},"encoding":{"text":{"field":"t","type":"nominal"}}},
{"data":{"name":"Cred"},"mark":{"type":"text","font":"Lato","fontSize":62,"color":"#ee1c1c"},"encoding":{"text":{"field":"t","type":"nominal"}}},
{"data":{"name":"Cc"},"mark":{"type":"text","font":"DejaVu Sans","fontSize":56,"color":"#000"},"encoding":{"text":{"field":"t","type":"nominal"}}},
{"data":{"name":"CL"},"mark":{"type":"text","font":"Lato","fontSize":66,"color":"#000"},"encoding":{"text":{"field":"t","type":"nominal"}}}
]
},
{
"width":1713,"height":1291,
"encoding":{
"x":{"field":"wn","type":"quantitative","scale":{"domain":[36,1675],"nice":false,"zero":false},"axis":{"values":[250,500,750,1000,1250,1500],"labelExpr":"datum.value % 500 === 0 ? '' + datum.value : ''","tickSize":{"condition":{"test":"datum.value % 500 === 0","value":28},"value":17},"title":"Wavenumber  /  cm⁻¹","titlePadding":30}},
"y":{"field":"I","type":"quantitative","scale":{"domain":[0,129.1],"nice":false,"zero":false},"axis":{"title":null,"labels":false,"ticks":false,"domain":false}}
},
"layer":[
{"data":{"name":"D"},"mark":{"type":"line","strokeWidth":3.5,"interpolate":"monotone"},"encoding":{"color":{"field":"s","type":"nominal","scale":{"domain":["a","a2","b","b2"],"range":["#111111","#111111","#111111","#111111"]},"legend":null}}},
{"data":{"values":[{"wn":36,"I":0,"I2":123.1}]},"mark":{"type":"rule","strokeWidth":4,"color":"#000"},"encoding":{"y2":{"field":"I2"}}},
{"data":{"name":"Dh"},"mark":{"type":"text","font":"DejaVu Sans","fontSize":44,"color":"#000"},"encoding":{"text":{"field":"t","type":"nominal"}}},
{"data":{"name":"Dr"},"mark":{"type":"text","font":"Liberation Sans","fontSize":46,"angle":270,"color":"#000"},"encoding":{"text":{"field":"t","type":"nominal"}}},
{"data":{"name":"Ds"},"mark":{"type":"text","font":"Liberation Sans","fontSize":40,"angle":270,"color":"#000"},"encoding":{"text":{"field":"t","type":"nominal"}}},
{"data":{"name":"Dc"},"mark":{"type":"text","font":"DejaVu Sans","fontSize":56,"color":"#000"},"encoding":{"text":{"field":"t","type":"nominal"}}},
{"data":{"name":"DL"},"mark":{"type":"text","font":"Lato","fontSize":66,"color":"#000"},"encoding":{"text":{"field":"t","type":"nominal"}}},
{"data":{"name":"DL2"},"mark":{"type":"text","font":"Lato","fontSize":62,"color":"#000"},"encoding":{"text":{"field":"t","type":"nominal"}}}
]
}
]
}
